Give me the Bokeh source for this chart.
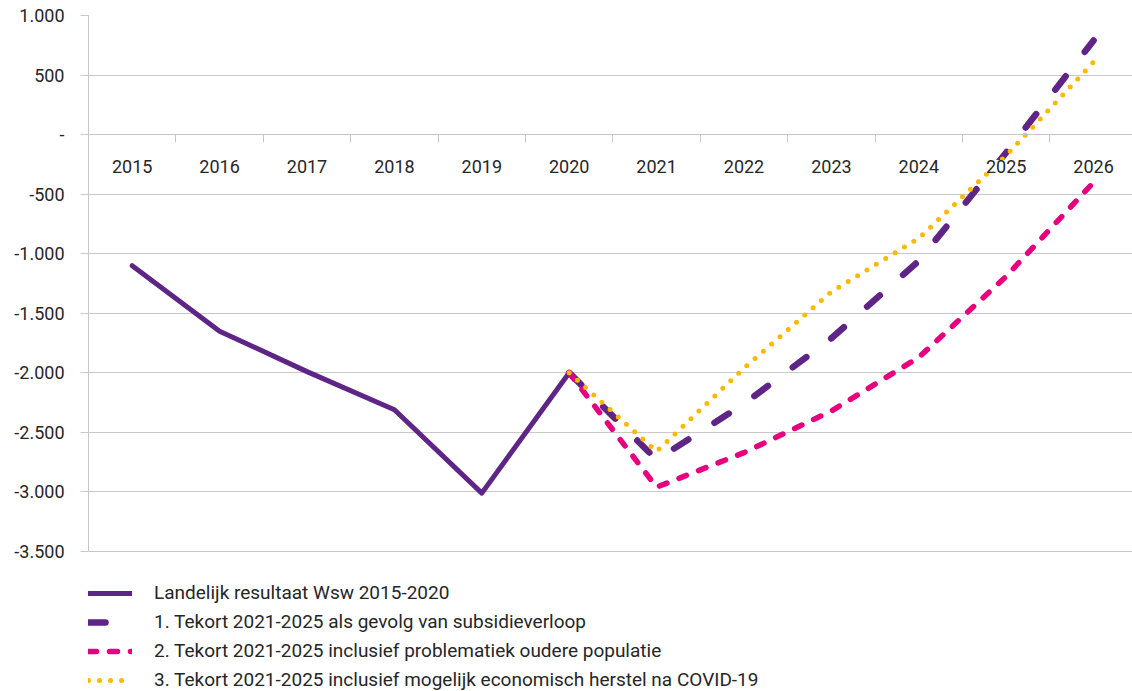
from bokeh.plotting import figure
from bokeh.models import (Range1d, FixedTicker, LinearAxis, Legend, LegendItem,
                          LabelSet, ColumnDataSource)
from bokeh.core.properties import value
from bokeh.embed import file_html
from bokeh.resources import INLINE

# ---- data ----
years = ["2015", "2016", "2017", "2018", "2019", "2020",
         "2021", "2022", "2023", "2024", "2025", "2026"]
hist_years = ["2015", "2016", "2017", "2018", "2019", "2020"]
landelijk = [-1100, -1650, -1990, -2310, -3010, -2000]

scen_years = ["2020", "2021", "2022", "2023", "2024", "2025", "2026"]
scen1 = [-2000, -2730, -2260, -1710, -1060, -150, 790]
scen2 = [-2000, -2960, -2670, -2320, -1870, -1190, -400]
scen3 = [-2000, -2660, -1960, -1320, -870, -175, 610]

labels = [
    "Landelijk resultaat Wsw 2015-2020",
    "1. Tekort 2021-2025 als gevolg van subsidieverloop",
    "2. Tekort 2021-2025 inclusief problematiek oudere populatie",
    "3. Tekort 2021-2025 inclusief mogelijk economisch herstel na COVID-19",
]
y_ticks = [-3500, -3000, -2500, -2000, -1500, -1000, -500, 0, 500, 1000]

# ---- styling ----
PURPLE = "#5f2586"
PINK = "#e6007e"
YELLOW = "#fcb900"
GRID = "#c8c8c8"
TEXT = "#262626"
FONT = "Roboto"
FS = "18px"

Y_MIN, Y_MAX = y_ticks[0], y_ticks[-1]
PLOT_TOP, PLOT_BOTTOM, FIG_H = 15, 551, 691      # pixel layout
units_per_px = (Y_MAX - Y_MIN) / (PLOT_BOTTOM - PLOT_TOP)
y_view_min = Y_MIN - (FIG_H - PLOT_BOTTOM) * units_per_px  # room for legend


def nl(v):
    if v == 0:
        return "-"
    return f"{v:,}".replace(",", ".")


pos = {y: i + 0.5 for i, y in enumerate(years)}

p = figure(width=1132, height=FIG_H,
           x_range=Range1d(0, 11.945), y_range=Range1d(y_view_min, Y_MAX),
           x_axis_location=None, y_axis_location="left",
           output_backend="svg", toolbar_location=None,
           min_border_left=88, min_border_right=0, min_border_top=PLOT_TOP,
           min_border_bottom=0)
p.outline_line_color = None
p.background_fill_color = "white"
p.border_fill_color = "white"

# y axis
yax = p.yaxis[0]
yax.bounds = (Y_MIN, Y_MAX)
yax.ticker = FixedTicker(ticks=y_ticks, minor_ticks=[])
yax.major_label_overrides = {v: nl(v) for v in y_ticks}
yax.axis_line_color = GRID
yax.major_tick_line_color = GRID
yax.major_tick_out = 8
yax.major_tick_in = 0
yax.minor_tick_line_color = None
yax.major_label_standoff = 16
yax.major_label_text_font = FONT
yax.major_label_text_font_size = FS
yax.major_label_text_color = TEXT

p.xgrid.visible = False
p.ygrid.ticker = FixedTicker(ticks=y_ticks)
p.ygrid.grid_line_color = GRID
p.ygrid.grid_line_width = 1

# category axis crossing at zero (tick marks at category boundaries)
edges = list(range(len(years) + 1))
xax = LinearAxis(ticker=FixedTicker(ticks=[], minor_ticks=edges))
xax.fixed_location = 0
xax.axis_line_color = GRID
xax.major_tick_line_color = None
xax.minor_tick_out = 8
xax.minor_tick_in = 0
xax.minor_tick_line_color = GRID
p.add_layout(xax, "below")

# lines
r0 = p.line([pos[y] for y in hist_years], landelijk, line_color=PURPLE,
            line_width=5, line_join="round", line_cap="round")
sx = [pos[y] for y in scen_years]
r1 = p.line(sx, scen1, line_color=PURPLE, line_width=6.5, line_dash="17 31",
            line_cap="round", line_join="round")
r2 = p.line(sx, scen2, line_color=PINK, line_width=5.5, line_dash="8 13",
            line_cap="round", line_join="round")
r3 = p.line(sx, scen3, line_color=YELLOW, line_width=5, line_dash="0 11",
            line_cap="round", line_join="round")

# category labels (white boxes, drawn over the lines like the original)
cat_src = ColumnDataSource(dict(x=[pos[y] for y in years],
                                y=[0] * len(years), text=years))
cats = LabelSet(x="x", y="y", text="text", source=cat_src, y_offset=-32,
                text_align="center", text_baseline="middle",
                text_font=value(FONT), text_font_size=value(FS),
                text_color=value(TEXT),
                background_fill_color=value("white"),
                background_fill_alpha=1.0, level="overlay")
p.add_layout(cats)

legend = Legend(items=[LegendItem(label=labels[0], renderers=[r0]),
                       LegendItem(label=labels[1], renderers=[r1]),
                       LegendItem(label=labels[2], renderers=[r2]),
                       LegendItem(label=labels[3], renderers=[r3])],
                location="bottom_left", orientation="vertical")
legend.margin = 0
legend.padding = 2
legend.spacing = 6
legend.glyph_width = 44
legend.glyph_height = 20
legend.label_height = 20
legend.label_standoff = 22
legend.label_text_font = FONT
legend.label_text_font_size = "19px"
legend.label_text_color = TEXT
legend.background_fill_alpha = 0
legend.border_line_color = None
p.add_layout(legend, "center")

open("out.html", "w").write(file_html(p, INLINE))
